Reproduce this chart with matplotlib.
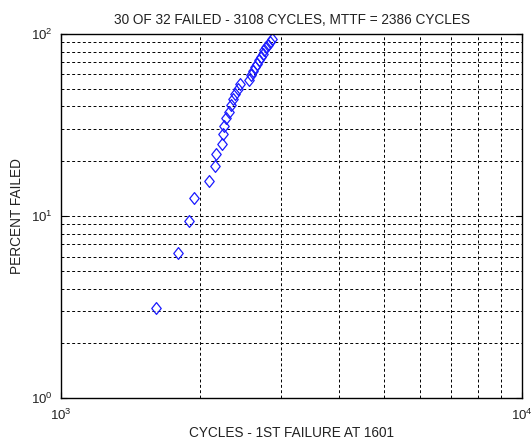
import matplotlib
matplotlib.use("Agg")
import matplotlib.pyplot as plt
from matplotlib.path import Path
from matplotlib.ticker import LogLocator, NullFormatter
import numpy as np

plt.rcParams['font.family'] = ['Liberation Sans', 'DejaVu Sans']
plt.rcParams['mathtext.fontset'] = 'custom'
plt.rcParams['mathtext.rm'] = 'Liberation Sans'
plt.rcParams['mathtext.it'] = 'Liberation Sans'

# Failure cycles
cycles = [1601, 1794, 1892, 1941, 2091, 2151, 2169, 2235, 2246, 2257,
          2280, 2306, 2333, 2360, 2386, 2413, 2441, 2560, 2585, 2609,
          2633, 2658, 2683, 2709, 2733, 2759, 2786, 2812, 2838, 2865]
# Percent failed (rank / 32 * 100)
percent = [3.125, 6.25, 9.375, 12.5, 15.625, 18.75, 21.875, 25.0, 28.125, 31.25,
           34.375, 37.5, 40.625, 43.75, 46.875, 50.0, 53.125, 56.25, 59.375, 62.5,
           65.625, 68.75, 71.875, 75.0, 78.125, 81.25, 84.375, 87.5, 90.625, 93.75]

title = "30 OF 32 FAILED - 3108 CYCLES, MTTF = 2386 CYCLES"
xlabel = "CYCLES - 1ST FAILURE AT 1601"
ylabel = "PERCENT FAILED"

fig = plt.figure(figsize=(5.31, 4.41), dpi=100)
ax = fig.add_axes([61.3/531, 1-398.3/441, (522.3-61.3)/531, (398.3-34)/441])

diamond = Path([(0, 1), (0.8, 0), (0, -1), (-0.8, 0), (0, 1)],
               [Path.MOVETO, Path.LINETO, Path.LINETO, Path.LINETO, Path.CLOSEPOLY])
ax.plot(cycles, percent, linestyle='none', marker=diamond, markersize=8.5,
        markerfacecolor='none', markeredgecolor='#1a1aff', markeredgewidth=0.9)

ax.set_xscale('log')
ax.set_yscale('log')
ax.set_xlim(1000, 10000)
ax.set_ylim(1, 100)

ax.xaxis.set_major_locator(LogLocator(base=10))
ax.yaxis.set_major_locator(LogLocator(base=10))
ax.xaxis.set_minor_locator(LogLocator(base=10, subs=np.arange(2, 10)))
ax.yaxis.set_minor_locator(LogLocator(base=10, subs=np.arange(2, 10)))
ax.xaxis.set_minor_formatter(NullFormatter())
ax.yaxis.set_minor_formatter(NullFormatter())

ax.grid(True, which='both', color='black', linestyle=(0, (3, 2.5)), linewidth=0.7)
ax.tick_params(which='both', direction='in', top=True, right=True,
               labelsize=9.5, colors='black', labelcolor='#222222')
ax.tick_params(which='major', length=4)
ax.tick_params(which='minor', length=0)
ax.tick_params(axis='x', which='major', pad=7)
ax.tick_params(axis='y', which='major', pad=6)
for s in ax.spines.values():
    s.set_linewidth(1.0)
    s.set_color('black')

ax.set_title(title, fontsize=9.8, color='#222222', pad=7)
ax.set_xlabel(xlabel, fontsize=9.8, color='#222222', labelpad=2)
ax.set_ylabel(ylabel, fontsize=9.8, color='#222222', labelpad=5)

fig.savefig("out.png", dpi=100)
